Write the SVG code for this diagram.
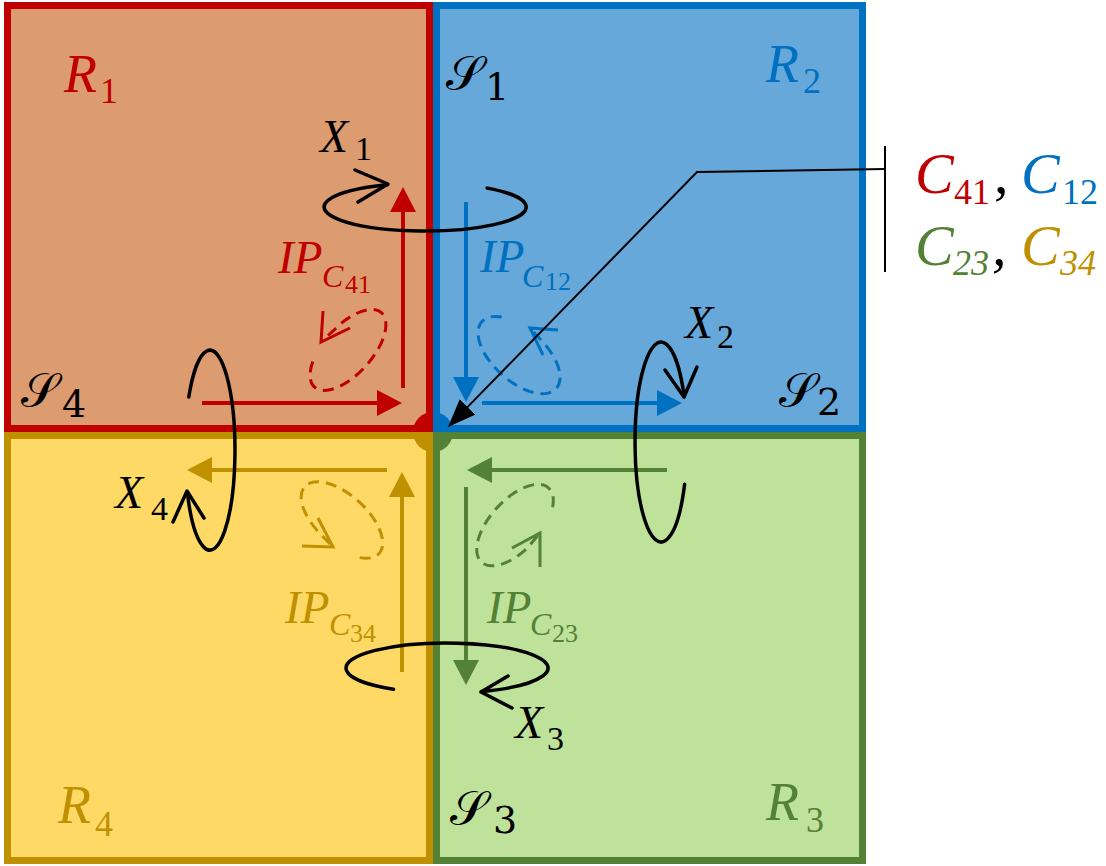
<svg xmlns="http://www.w3.org/2000/svg" width="1106" height="866" viewBox="0 0 1106 866">
<style>
.m{font-family:"Liberation Serif",serif;font-style:italic;}
.up{font-style:normal;}
.cal{font-family:"DejaVu Serif","Noto Sans",serif;font-style:normal;}
.blk{fill:none;stroke:#000;stroke-width:3.5;stroke-linecap:round;stroke-linejoin:round;}
.dash{fill:none;stroke-width:3;stroke-dasharray:11 7;}
.chev{fill:none;stroke-width:3;}
.arr{stroke-width:4;fill:none;}
</style>
<defs>
<marker id="hR" viewBox="0 0 25 26" markerWidth="25" markerHeight="26" refX="2" refY="13" orient="auto" markerUnits="userSpaceOnUse"><path d="M0,0 L25,13 L0,26 Z" fill="#C00000"/></marker>
<marker id="hB" viewBox="0 0 25 26" markerWidth="25" markerHeight="26" refX="2" refY="13" orient="auto" markerUnits="userSpaceOnUse"><path d="M0,0 L25,13 L0,26 Z" fill="#0070C0"/></marker>
<marker id="hG" viewBox="0 0 25 26" markerWidth="25" markerHeight="26" refX="2" refY="13" orient="auto" markerUnits="userSpaceOnUse"><path d="M0,0 L25,13 L0,26 Z" fill="#538135"/></marker>
<marker id="hY" viewBox="0 0 25 26" markerWidth="25" markerHeight="26" refX="2" refY="13" orient="auto" markerUnits="userSpaceOnUse"><path d="M0,0 L25,13 L0,26 Z" fill="#BF9000"/></marker>
<marker id="hK" viewBox="0 0 28 22" markerWidth="28" markerHeight="22" refX="3" refY="11" orient="auto" markerUnits="userSpaceOnUse"><path d="M0,0 L28,11 L0,22 Z" fill="#000"/></marker>
</defs>

<g id="R1">
<rect x="7.5" y="5.5" width="422" height="423" fill="#DD9B70" stroke="#C00000" stroke-width="7"/>
<text class="m" x="64" y="92" font-size="54" fill="#C00000">R<tspan class="up" x="100" y="103" font-size="36">1</tspan></text>
</g>
<g id="R2">
<rect x="436.5" y="5.5" width="426" height="423" fill="#65A8D9" stroke="#0070C0" stroke-width="7"/>
<text class="m" x="766" y="82" font-size="54" fill="#0070C0">R<tspan class="up" x="803" y="93" font-size="36">2</tspan></text>
</g>
<g id="R3">
<rect x="436.5" y="435.5" width="426" height="425" fill="#BFE29A" stroke="#538135" stroke-width="7"/>
<text class="m" x="766" y="820" font-size="54" fill="#538135">R<tspan class="up" x="806" y="832" font-size="36">3</tspan></text>
</g>
<g id="R4">
<rect x="7.5" y="435.5" width="422" height="425" fill="#FFD966" stroke="#BF9000" stroke-width="7"/>
<text class="m" x="58" y="823" font-size="54" fill="#BF9000">R<tspan class="up" x="95" y="836" font-size="36">4</tspan></text>
</g>

<g id="center-dot">
<path d="M433,432 L413,432 A20,20 0 0 1 433,412 Z" fill="#C00000"/>
<path d="M433,432 L433,412 A20,20 0 0 1 453,432 Z" fill="#0070C0"/>
<path d="M433,432 L453,432 A20,20 0 0 1 433,452 Z" fill="#538135"/>
<path d="M433,432 L433,452 A20,20 0 0 1 413,432 Z" fill="#BF9000"/>
</g>

<g id="S-labels" fill="#000">
<text class="cal" x="446" y="90" font-size="48">𝒮<tspan x="485" y="100" font-size="38">1</tspan></text>
<text class="cal" x="779" y="407" font-size="48">𝒮<tspan x="817" y="415" font-size="38">2</tspan></text>
<text class="cal" x="450" y="825" font-size="48">𝒮<tspan x="493" y="833" font-size="38">3</tspan></text>
<text class="cal" x="21" y="407" font-size="48">𝒮<tspan x="62" y="417" font-size="38">4</tspan></text>
</g>

<g id="flows">
<line class="arr" x1="403" y1="388" x2="403" y2="210" stroke="#C00000" marker-end="url(#hR)"/>
<line class="arr" x1="202" y1="403" x2="379" y2="403" stroke="#C00000" marker-end="url(#hR)"/>
<line class="arr" x1="466" y1="202" x2="466" y2="379" stroke="#0070C0" marker-end="url(#hB)"/>
<line class="arr" x1="482" y1="403" x2="659" y2="403" stroke="#0070C0" marker-end="url(#hB)"/>
<line class="arr" x1="667" y1="470" x2="490" y2="470" stroke="#538135" marker-end="url(#hG)"/>
<line class="arr" x1="466" y1="487" x2="466" y2="662" stroke="#538135" marker-end="url(#hG)"/>
<line class="arr" x1="387" y1="470" x2="210" y2="470" stroke="#BF9000" marker-end="url(#hY)"/>
<line class="arr" x1="402" y1="672" x2="402" y2="495" stroke="#BF9000" marker-end="url(#hY)"/>
</g>

<g id="IP-loops">
<path class="dash" stroke="#C00000" d="M312.8,361.6 A50,24 -48 1 0 342.6,322.2 L322,341"/>
<polyline class="chev" stroke="#C00000" points="323,311 321,342 350,328"/>
<path class="dash" stroke="#0070C0" d="M501.7,317 A50,26 42 1 0 542.6,341.8 L531,329"/>
<polyline class="chev" stroke="#0070C0" points="558,330 530,328 543,355"/>
<path class="dash" stroke="#538135" d="M552.6,507.3 A50,25 -48 1 0 527.5,548 L539,534"/>
<polyline class="chev" stroke="#538135" points="540,567 540,533 512,548"/>
<path class="dash" stroke="#BF9000" d="M359.7,557.6 A50,25 42 1 0 319,532.5 L332,546"/>
<polyline class="chev" stroke="#BF9000" points="302,546 333,547 318,518"/>
</g>

<g id="IP-labels">
<text class="m" x="278" y="273" font-size="47" fill="#C00000">IP<tspan x="322" y="287" font-size="32">C</tspan><tspan class="up" x="345" y="293" font-size="26">41</tspan></text>
<text class="m" x="480" y="272" font-size="47" fill="#0070C0">IP<tspan x="522" y="287" font-size="32">C</tspan><tspan class="up" x="545" y="290" font-size="26">12</tspan></text>
<text class="m" x="487" y="623" font-size="47" fill="#538135">IP<tspan x="530" y="635" font-size="32">C</tspan><tspan class="up" x="552" y="642" font-size="26">23</tspan></text>
<text class="m" x="285" y="623" font-size="47" fill="#BF9000">IP<tspan x="329" y="635" font-size="32">C</tspan><tspan class="up" x="350" y="642" font-size="26">34</tspan></text>
</g>

<g id="X-rotations">
<path class="blk" d="M487.2,188.1 A101,24 0 1 1 387.1,184.8"/>
<polyline class="blk" points="355,170 388,184 358,202"/>
<path class="blk" d="M684.6,484.3 A26,100 0 1 1 684.2,396.6"/>
<polyline class="blk" points="665,370 684,397 697,367"/>
<path class="blk" d="M393.5,689.2 A101,25 0 1 1 481.5,691.5"/>
<polyline class="blk" points="508,676 481,692 512,708"/>
<path class="blk" d="M188.8,397 A25,100 0 1 1 187.3,492.3"/>
<polyline class="blk" points="173,522 187,491 204,518"/>
</g>

<g id="X-labels" fill="#000">
<text class="m" x="320" y="152" font-size="46">X<tspan class="up" x="355" y="160" font-size="34">1</tspan></text>
<text class="m" x="685" y="338" font-size="46">X<tspan class="up" x="717" y="348" font-size="34">2</tspan></text>
<text class="m" x="515" y="738" font-size="46">X<tspan class="up" x="547" y="750" font-size="34">3</tspan></text>
<text class="m" x="115" y="508" font-size="46">X<tspan class="up" x="151" y="520" font-size="34">4</tspan></text>
</g>

<g id="connectors">
<line x1="885" y1="146" x2="885" y2="272" stroke="#000" stroke-width="2"/>
<polyline points="885,169 697,172 465.5,409.1" fill="none" stroke="#000" stroke-width="2" marker-end="url(#hK)"/>
</g>

<g id="C-legend">
<text class="m" x="915" y="193" font-size="58"><tspan fill="#C00000">C</tspan><tspan class="up" x="954" y="204" font-size="36" fill="#C00000">41</tspan><tspan class="up" x="994" y="193" fill="#000">,</tspan><tspan x="1021" y="193" fill="#0070C0">C</tspan><tspan class="up" x="1062" y="204" font-size="36" fill="#0070C0">12</tspan></text>
<text class="m" x="915" y="265" font-size="58"><tspan fill="#538135">C</tspan><tspan x="953" y="275" font-size="36" fill="#538135">23</tspan><tspan x="992" y="265" fill="#000">,</tspan><tspan x="1021" y="265" fill="#BF9000">C</tspan><tspan x="1060" y="275" font-size="36" fill="#BF9000">34</tspan></text>
</g>
</svg>
